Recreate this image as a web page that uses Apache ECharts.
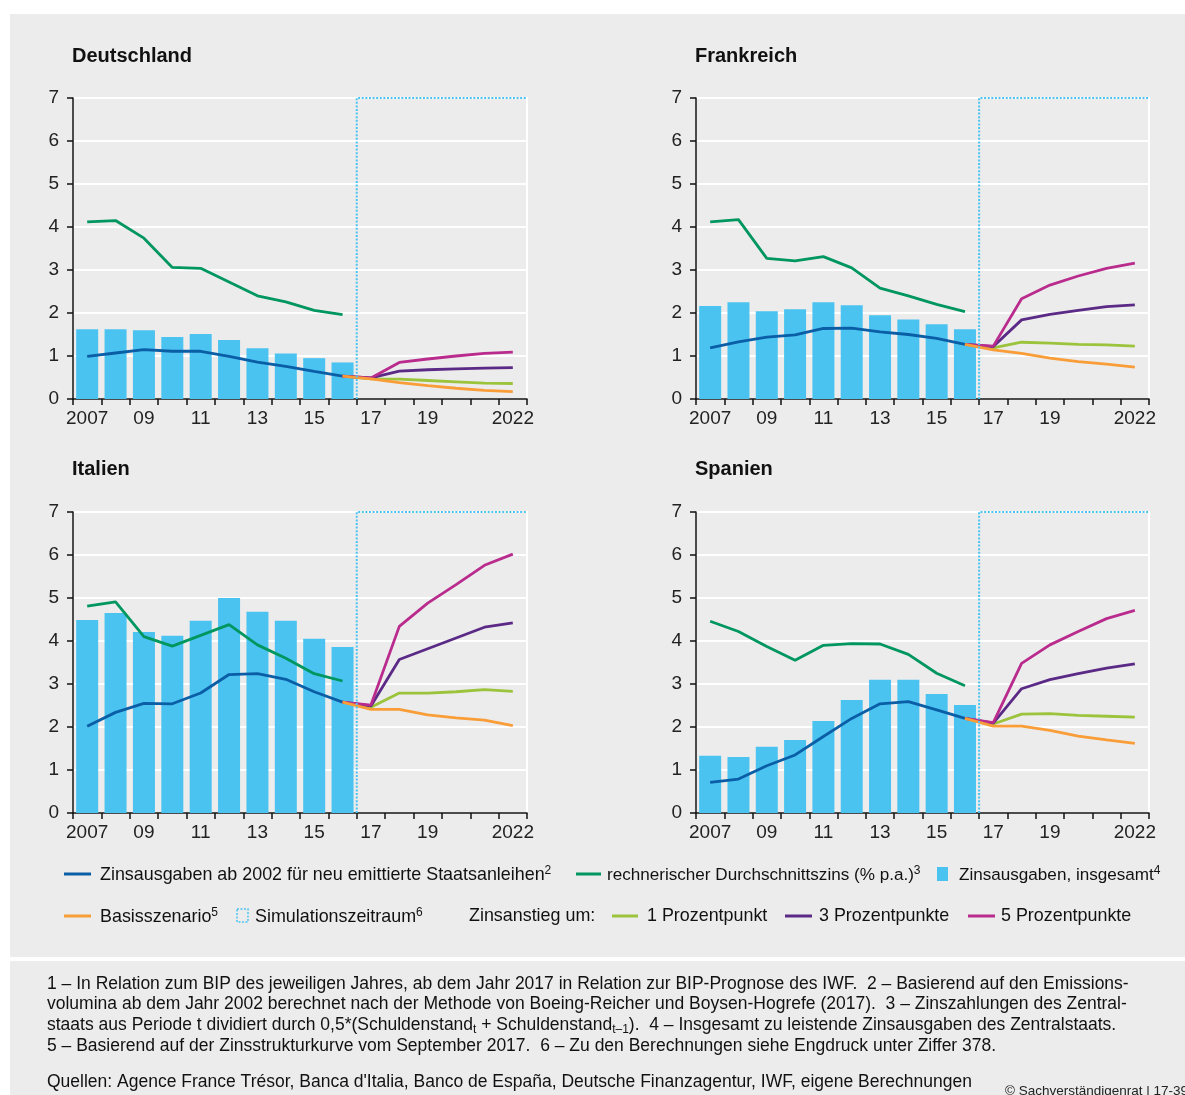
<!DOCTYPE html>
<html>
<head>
<meta charset="utf-8">
<script src="https://cdn.jsdelivr.net/npm/echarts@6/dist/echarts.min.js"></script>
<style>
html,body{margin:0;padding:0;background:#fff;}
#c{width:1185px;height:1095px;}
</style>
</head>
<body>
<div id="c"></div>
<script>
// ---------- data ----------
const years = ['2007','08','09','10','11','12','13','14','15','16','17','18','19','20','21','2022'];
const shownLabels = [0, 2, 4, 6, 8, 10, 12, 15];
const yTicks = [0, 1, 2, 3, 4, 5, 6, 7];
const panelTitles = ['Deutschland', 'Frankreich', 'Italien', 'Spanien'];

// bars 2007-2016: Zinsausgaben, insgesamt
const deBars = [1.62,1.62,1.60,1.44,1.51,1.37,1.18,1.06,0.95,0.85];
const frBars = [2.16,2.25,2.04,2.09,2.25,2.18,1.95,1.85,1.74,1.62];
const itBars = [4.49,4.65,4.21,4.12,4.47,5.00,4.68,4.47,4.05,3.86];
const esBars = [1.33,1.30,1.54,1.70,2.14,2.63,3.10,3.10,2.77,2.51];

// Zinsausgaben ab 2002 für neu emittierte Staatsanleihen, 2007-2016
const deNeu = [0.99,1.07,1.15,1.11,1.11,0.99,0.86,0.76,0.64,0.53];
const frNeu = [1.19,1.33,1.44,1.49,1.64,1.65,1.56,1.50,1.41,1.27];
const itNeu = [2.02,2.34,2.55,2.54,2.79,3.22,3.24,3.11,2.82,2.58];
const esNeu = [0.71,0.79,1.10,1.35,1.78,2.20,2.54,2.59,2.40,2.20];

// rechnerischer Durchschnittszins, 2007-2016
const deZins = [4.12,4.15,3.74,3.06,3.04,2.72,2.40,2.26,2.06,1.96];
const frZins = [4.12,4.17,3.27,3.21,3.31,3.05,2.58,2.40,2.20,2.03];
const itZins = [4.81,4.91,4.10,3.88,4.13,4.38,3.91,3.60,3.24,3.07];
const esZins = [4.46,4.22,3.87,3.55,3.90,3.94,3.93,3.69,3.25,2.96];

// scenarios 2016-2022
const deBasis = [0.53,0.47,0.38,0.31,0.25,0.20,0.17];
const deP1 = [0.53,0.47,0.46,0.43,0.40,0.37,0.36];
const deP3 = [0.53,0.49,0.65,0.68,0.70,0.72,0.73];
const deP5 = [0.53,0.49,0.85,0.93,1.00,1.06,1.09];

const frBasis = [1.27,1.14,1.06,0.95,0.87,0.81,0.74];
const frP1 = [1.27,1.19,1.32,1.30,1.27,1.26,1.23];
const frP3 = [1.27,1.22,1.84,1.97,2.06,2.15,2.19];
const frP5 = [1.27,1.23,2.33,2.65,2.86,3.04,3.16];

const itBasis = [2.58,2.41,2.41,2.28,2.21,2.16,2.03];
const itP1 = [2.58,2.46,2.79,2.79,2.82,2.87,2.83];
const itP3 = [2.58,2.49,3.57,3.82,4.07,4.32,4.42];
const itP5 = [2.58,2.51,4.34,4.88,5.31,5.76,6.02];

const esBasis = [2.20,2.02,2.02,1.92,1.79,1.70,1.62];
const esP1 = [2.20,2.07,2.30,2.31,2.27,2.25,2.23];
const esP3 = [2.20,2.09,2.89,3.10,3.24,3.37,3.47];
const esP5 = [2.20,2.10,3.48,3.91,4.22,4.52,4.71];

// simulation period box (in category-boundary units)
const simBox = [[10, 0], [10, 7], [16, 7]];

const panels = [
  {bars: deBars, neu: deNeu, zins: deZins, basis: deBasis, p1: deP1, p3: deP3, p5: deP5},
  {bars: frBars, neu: frNeu, zins: frZins, basis: frBasis, p1: frP1, p3: frP3, p5: frP5},
  {bars: itBars, neu: itNeu, zins: itZins, basis: itBasis, p1: itP1, p3: itP3, p5: itP5},
  {bars: esBars, neu: esNeu, zins: esZins, basis: esBasis, p1: esP1, p3: esP3, p5: esP5}
];

// ---------- style ----------
const FONT = '"Liberation Sans", Arial, sans-serif';
const C = {
  bar: '#4bc3f1', neu: '#0a5ea6', zins: '#00965f', basis: '#f99d38',
  p1: '#9cc33c', p3: '#5b2a86', p5: '#b92c8d', sim: '#4bc3f1', bg: '#ececec'
};
const gridPos = [
  {left: 73, top: 98, width: 454, height: 301},
  {left: 696, top: 98, width: 453, height: 301},
  {left: 73, top: 512, width: 454, height: 301},
  {left: 696, top: 512, width: 453, height: 301}
];
const titlePos = [[67, 41], [690, 41], [67, 454], [690, 454]];

const pad = (arr, before) => Array(before).fill(null).concat(arr);

const grid = [], xAxis = [], yAxis = [], series = [], title = [];
panels.forEach((p, i) => {
  grid.push(Object.assign({show: true, borderColor: '#ffffff', borderWidth: 2, backgroundColor: 'transparent'}, gridPos[i]));
  title.push({text: panelTitles[i], left: titlePos[i][0], top: titlePos[i][1],
    textStyle: {fontFamily: FONT, fontSize: 20, fontWeight: 'bold', color: '#111'}});
  // category axis
  xAxis.push({
    type: 'category', gridIndex: i, data: years, boundaryGap: true,
    axisLine: {show: true, lineStyle: {color: '#111', width: 1.5}},
    axisTick: {show: true, interval: 0, length: 6, lineStyle: {color: '#111', width: 1.5}},
    axisLabel: {interval: (idx) => shownLabels.includes(idx), fontFamily: FONT, fontSize: 19, color: '#222', margin: 10},
    splitLine: {show: false}
  });
  // hidden value axis for simulation box
  xAxis.push({type: 'value', gridIndex: i, min: 0, max: 16, show: false});
  yAxis.push({
    type: 'value', gridIndex: i, min: 0, max: 7, interval: 1,
    axisLine: {show: true, lineStyle: {color: '#111', width: 1.5}},
    axisTick: {show: true, length: 6, lineStyle: {color: '#111', width: 1.5}},
    axisLabel: {fontFamily: FONT, fontSize: 19, color: '#222', margin: 14},
    splitLine: {show: true, lineStyle: {color: '#ffffff', width: 2}}
  });
  const cx = i * 2, vx = i * 2 + 1;
  series.push({type: 'bar', name: 'Zinsausgaben, insgesamt', xAxisIndex: cx, yAxisIndex: i,
    data: p.bars, barWidth: 22, itemStyle: {color: C.bar}, silent: true, z: 2});
  const line = (name, data, color, z) => ({
    type: 'line', name, xAxisIndex: cx, yAxisIndex: i, data, symbol: 'none',
    lineStyle: {color, width: 2.8}, itemStyle: {color}, silent: true, z, connectNulls: false, animation: false
  });
  series.push(line('Zins', p.zins, C.zins, 4));
  series.push(line('Neu', p.neu, C.neu, 4));
  series.push(line('1 Prozentpunkt', pad(p.p1, 9), C.p1, 5));
  series.push(line('3 Prozentpunkte', pad(p.p3, 9), C.p3, 6));
  series.push(line('5 Prozentpunkte', pad(p.p5, 9), C.p5, 7));
  series.push(line('Basisszenario', pad(p.basis, 9), C.basis, 8));
  series.push({type: 'line', name: 'Simulationszeitraum', xAxisIndex: vx, yAxisIndex: i, data: simBox,
    symbol: 'none', lineStyle: {color: C.sim, width: 2, type: [2, 1.6]}, silent: true, z: 9, animation: false});
});

// ---------- legend & notes (graphic) ----------
const txt = (x, y, rich, fontSize, extra) => ({
  type: 'text', left: x, top: y, z: 20,
  style: Object.assign({text: rich.text, rich: rich.rich, font: fontSize + 'px ' + FONT, fill: '#111'}, extra || {})
});
const mkSup = (fs) => ({
  sup: {fontSize: 12, verticalAlign: 'top', lineHeight: 20, fontFamily: FONT},
  n: {fontSize: fs, lineHeight: 20, fontFamily: FONT}
});
const supRich = mkSup(17.9);
const supRichS = mkSup(17.1);
const subRich = {
  sub: {fontSize: 12, verticalAlign: 'bottom', lineHeight: 22, fontFamily: FONT, padding: [6, 0, 0, 0]},
  n: {fontSize: 17.5, lineHeight: 20, fontFamily: FONT}
};
const legLine = (x1, x2, y, color) => ({type: 'line', z: 20, shape: {x1, y1: y, x2, y2: y}, style: {stroke: color, lineWidth: 3}});

const graphic = [
  {type: 'rect', z: -10, shape: {x: 10, y: 14, width: 1175, height: 943}, style: {fill: C.bg}},
  {type: 'rect', z: -10, shape: {x: 10, y: 961, width: 1175, height: 134}, style: {fill: C.bg}},
  // legend row 1
  legLine(64, 91, 874, C.neu),
  txt(100, 865, {text: '{n|Zinsausgaben ab 2002 für neu emittierte Staatsanleihen}{sup|2}', rich: supRich}, 17.9),
  legLine(576, 601, 874, C.zins),
  txt(607, 865, {text: '{n|rechnerischer Durchschnittszins (% p.a.)}{sup|3}', rich: supRichS}, 17.1),
  {type: 'rect', z: 20, shape: {x: 937, y: 867, width: 11, height: 14}, style: {fill: C.bar}},
  txt(959, 865, {text: '{n|Zinsausgaben, insgesamt}{sup|4}', rich: supRichS}, 17.4),
  // legend row 2
  legLine(64, 91, 916, C.basis),
  txt(100, 907, {text: '{n|Basisszenario}{sup|5}', rich: supRich}, 17.9),
  {type: 'rect', z: 20, shape: {x: 237, y: 909, width: 11, height: 13}, style: {fill: 'none', stroke: C.sim, lineWidth: 1.5, lineDash: [2, 1.5]}},
  txt(255, 907, {text: '{n|Simulationszeitraum}{sup|6}', rich: supRich}, 17.9),
  txt(469, 907, {text: '{n|Zinsanstieg um:}', rich: supRich}, 17.9),
  legLine(612, 638, 916, C.p1),
  txt(647, 907, {text: '{n|1 Prozentpunkt}', rich: supRich}, 17.9),
  legLine(785, 812, 916, C.p3),
  txt(819, 907, {text: '{n|3 Prozentpunkte}', rich: supRich}, 17.9),
  legLine(968, 995, 916, C.p5),
  txt(1001, 907, {text: '{n|5 Prozentpunkte}', rich: supRich}, 17.9),
  // footnotes
  txt(47, 975, {text: '{n|1 – In Relation zum BIP des jeweiligen Jahres, ab dem Jahr 2017 in Relation zur BIP-Prognose des IWF.  2 – Basierend auf den Emissions-}', rich: subRich}, 17.5),
  txt(47, 995.5, {text: '{n|volumina ab dem Jahr 2002 berechnet nach der Methode von Boeing-Reicher und Boysen-Hogrefe (2017).  3 – Zinszahlungen des Zentral-}', rich: subRich}, 17.5),
  txt(47, 1016, {text: '{n|staats aus Periode t dividiert durch 0,5*(Schuldenstand}{sub|t}{n| + Schuldenstand}{sub|t–1}{n|).  4 – Insgesamt zu leistende Zinsausgaben des Zentralstaats.}', rich: subRich}, 17.5),
  txt(47, 1037, {text: '{n|5 – Basierend auf der Zinsstrukturkurve vom September 2017.  6 – Zu den Berechnungen siehe Engdruck unter Ziffer 378.}', rich: subRich}, 17.5),
  txt(47, 1073, {text: '{n|Quellen: Agence France Trésor, Banca d\'Italia, Banco de España, Deutsche Finanzagentur, IWF, eigene Berechnungen}', rich: subRich}, 17.5),
  txt(1005, 1084, {text: '{c|© Sachverständigenrat | 17-392}', rich: {c: {fontSize: 13.5, fontFamily: FONT, fill: '#222'}}}, 13.5)
];

const chart = echarts.init(document.getElementById('c'), null, {renderer: 'canvas'});
chart.setOption({
  backgroundColor: '#ffffff',
  animation: false,
  title, grid, xAxis, yAxis, series, graphic,
  legend: {show: false},
  tooltip: {show: false}
});
</script>
</body>
</html>
